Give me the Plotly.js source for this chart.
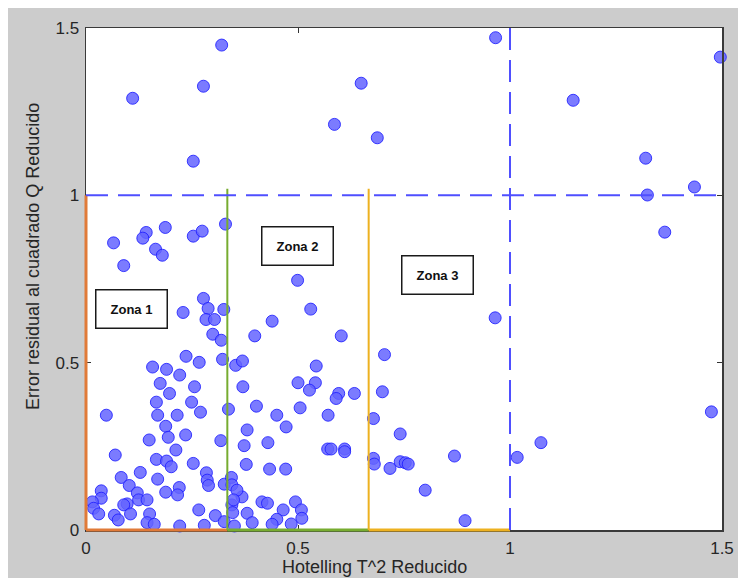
<!DOCTYPE html>
<html>
<head>
<meta charset="utf-8">
<script src="https://cdn.plot.ly/plotly-3.0.1.min.js"></script>
<style>
  html, body { margin: 0; padding: 0; background: #ffffff; }
  #chart { position: absolute; left: 8px; top: 8px; width: 730px; height: 570px; }
</style>
</head>
<body>
<div id="chart"></div>
<script>
// Hotelling T^2 reducido (x) vs Error residual al cuadrado Q reducido (y)
const t2 = [
  0.110, 0.320, 0.277, 0.253, 0.586, 0.649, 0.687, 0.966, 1.149, 1.320, 1.324, 1.435, 1.496,
  1.365, 1.475, 0.965, 0.741, 0.741, 0.753, 0.760, 0.869, 0.800, 0.894, 1.017, 1.073,
  0.065, 0.089, 0.142, 0.134, 0.187, 0.164, 0.180, 0.253, 0.274, 0.329,
  0.229, 0.277, 0.288, 0.325, 0.283, 0.303, 0.299, 0.319, 0.236, 0.267, 0.322, 0.353, 0.369,
  0.157, 0.190, 0.221,
  0.499, 0.530, 0.439, 0.398, 0.602, 0.704, 0.543,
  0.175, 0.197, 0.256, 0.166, 0.249, 0.270, 0.169, 0.215, 0.048, 0.336, 0.370,
  0.188, 0.194, 0.235, 0.149, 0.318, 0.380, 0.373, 0.212, 0.069, 0.166, 0.190, 0.201, 0.253, 0.378,
  0.128, 0.083, 0.169, 0.102, 0.284, 0.286, 0.289, 0.326, 0.343, 0.344, 0.220, 0.216, 0.188,
  0.036, 0.036, 0.121, 0.124, 0.144, 0.097, 0.089, 0.015, 0.018, 0.030, 0.067, 0.076, 0.105,
  0.150, 0.144, 0.161, 0.221, 0.266, 0.279, 0.305, 0.326, 0.344, 0.350, 0.368, 0.356, 0.380,
  0.500, 0.541, 0.527, 0.596, 0.590, 0.633, 0.699, 0.402, 0.505, 0.450, 0.472, 0.571, 0.678,
  0.429, 0.570, 0.578, 0.610, 0.610, 0.678, 0.680, 0.717, 0.433, 0.471,
  0.348, 0.415, 0.428, 0.494, 0.508, 0.509, 0.465, 0.450, 0.439, 0.484, 0.392, 0.346
];
const q = [
  1.290, 1.449, 1.326, 1.102, 1.212, 1.335, 1.172, 1.471, 1.284, 1.111, 1.001, 1.025, 1.413,
  0.890, 0.353, 0.634, 0.287, 0.204, 0.201, 0.197, 0.221, 0.119, 0.028, 0.217, 0.261,
  0.858, 0.790, 0.889, 0.872, 0.904, 0.839, 0.821, 0.878, 0.893, 0.914,
  0.650, 0.692, 0.662, 0.659, 0.629, 0.629, 0.585, 0.567, 0.519, 0.501, 0.510, 0.492, 0.505,
  0.487, 0.480, 0.463,
  0.746, 0.660, 0.624, 0.580, 0.580, 0.524, 0.490,
  0.438, 0.408, 0.428, 0.382, 0.382, 0.352, 0.343, 0.343, 0.343, 0.361, 0.428,
  0.310, 0.277, 0.284, 0.269, 0.267, 0.299, 0.252, 0.239, 0.224, 0.211, 0.206, 0.189, 0.199, 0.196,
  0.172, 0.157, 0.152, 0.133, 0.171, 0.149, 0.133, 0.137, 0.157, 0.135, 0.127, 0.105, 0.113,
  0.117, 0.095, 0.111, 0.090, 0.090, 0.078, 0.075, 0.084, 0.065, 0.048, 0.044, 0.030, 0.048,
  0.048, 0.022, 0.017, 0.012, 0.060, 0.014, 0.043, 0.025, 0.075, 0.012, 0.099, 0.119, 0.050,
  0.440, 0.440, 0.418, 0.408, 0.393, 0.408, 0.413, 0.370, 0.365, 0.343, 0.308, 0.343, 0.333,
  0.261, 0.242, 0.242, 0.242, 0.234, 0.214, 0.197, 0.184, 0.182, 0.182,
  0.090, 0.084, 0.080, 0.084, 0.060, 0.035, 0.060, 0.032, 0.017, 0.018, 0.022, 0.052
];

const tickVals = [0, 0.5, 1, 1.5];
const tickText = ['0', '0.5', '1', '1.5'];

// zone boundaries on the T^2 axis and the control limits
const zoneEdges = [0, 1/3, 2/3, 1];
const zoneTop = [1.0, 1.02, 1.02];
const zoneColors = ['#E07A38', '#77AC30', '#EDB120'];
const zoneLabels = ['Zona 1', 'Zona 2', 'Zona 3'];
const zoneLabelX = [0.107, 0.498, 0.830];
const zoneLabelY = [0.660, 0.848, 0.761];
const t2Limit = 1;
const qLimit = 1;
const axisMax = 1.5;

const shapes = [];
for (let i = 0; i < 3; i++) {
  // bottom segment along Q = 0 (on the axis line, so referenced to the plot-area bottom)
  shapes.push({type: 'line', xref: 'x', yref: 'paper', x0: zoneEdges[i], x1: zoneEdges[i + 1], y0: 0, y1: 0,
               line: {color: zoneColors[i], width: 3}});
  // vertical boundary on the left of the zone
  if (i === 0) {
    shapes.push({type: 'line', xref: 'paper', yref: 'y', x0: 0, x1: 0, y0: 0, y1: zoneTop[i],
                 line: {color: zoneColors[i], width: 3}});
  } else {
    shapes.push({type: 'line', xref: 'x', yref: 'y', x0: zoneEdges[i], x1: zoneEdges[i], y0: 0, y1: zoneTop[i],
                 line: {color: zoneColors[i], width: 2}});
  }
}
shapes.push({type: 'line', xref: 'x', yref: 'y', x0: 0, x1: axisMax, y0: qLimit, y1: qLimit,
             line: {color: '#4f4fff', width: 2, dash: '22px,10px'}});
shapes.push({type: 'line', xref: 'x', yref: 'y', x0: t2Limit, x1: t2Limit, y0: 0, y1: axisMax,
             line: {color: '#4f4fff', width: 2, dash: '22px,10px'}});

const annotations = zoneLabels.map((txt, i) => ({
  x: zoneLabelX[i], y: zoneLabelY[i], xref: 'x', yref: 'y', text: '<b>' + txt + '</b>',
  showarrow: false, bgcolor: '#ffffff', bordercolor: '#1a1a1a', borderwidth: 1.5, borderpad: 1,
  width: 68, height: 35, font: {family: 'Liberation Sans, Arial, sans-serif', size: 13, color: '#111'}
}));
annotations.push({
  xref: 'paper', yref: 'paper', x: 0.453, y: -0.0736, xanchor: 'center', yanchor: 'middle',
  text: 'Hotelling T^2 Reducido', showarrow: false,
  font: {family: 'Liberation Sans, Arial, sans-serif', size: 18, color: '#262626'}
});
annotations.push({
  xref: 'paper', yref: 'paper', x: -0.0825, y: 0.545, xanchor: 'center', yanchor: 'middle',
  text: 'Error residual al cuadrado Q Reducido', showarrow: false, textangle: -90,
  font: {family: 'Liberation Sans, Arial, sans-serif', size: 18, color: '#262626'}
});

const trace = {
  x: t2, y: q, type: 'scatter', mode: 'markers', cliponaxis: false, hoverinfo: 'x+y',
  marker: {size: 12, color: 'rgba(100,100,255,0.85)', line: {color: 'rgba(30,30,255,0.85)', width: 1}}
};

const axisCommon = {
  range: [0, axisMax], tickmode: 'array', tickvals: tickVals, ticktext: tickText,
  ticks: 'inside', ticklen: 5, tickwidth: 1, tickcolor: '#333',
  showline: true, linecolor: '#3a3a3a', linewidth: 1.5, mirror: 'ticks',
  showgrid: false, zeroline: false, fixedrange: true,
  tickfont: {family: 'Liberation Sans, Arial, sans-serif', size: 17, color: '#262626'}
};

const layout = {
  width: 730, height: 570,
  margin: {l: 78, r: 16, t: 20, b: 48},
  paper_bgcolor: '#cccccc', plot_bgcolor: '#ffffff',
  showlegend: false,
  xaxis: Object.assign({}, axisCommon, {ticklabelstandoff: 2}),
  yaxis: Object.assign({}, axisCommon, {ticklabelstandoff: 2}),
  shapes: shapes,
  annotations: annotations
};

Plotly.newPlot('chart', [trace], layout, {displayModeBar: false, staticPlot: true});
</script>
</body>
</html>
